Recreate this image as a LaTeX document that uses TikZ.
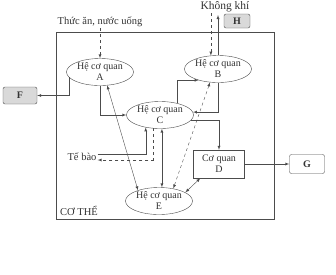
\documentclass[tikz,border=0pt]{standalone}
\usepackage{fontspec}
\setmainfont{Liberation Serif}
\usetikzlibrary{shapes.geometric}
\tikzset{organ/.style={ellipse,draw=black!70,inner sep=0pt,minimum width=67pt,minimum height=27pt,align=center,font=\fontsize{10}{11}\selectfont,text=black!80},
 organbox/.style={rectangle,draw=black!70,inner sep=0pt,minimum width=51pt,minimum height=28pt,align=center,font=\fontsize{10}{11}\selectfont,text=black!80},
 outbox/.style={rectangle,draw=black!70,rounded corners=2pt,inner sep=0pt,font=\bfseries\fontsize{10}{11}\selectfont,text=black!80},
 lbl/.style={inner sep=1pt,font=\fontsize{10.5}{12}\selectfont,text=black!80},
 flow/.style={draw=black!70,thin,-latex}, twoway/.style={draw=black!70,thin,latex-latex}}

\begin{document}
\begin{tikzpicture}[x=1pt,y=-1pt]
\useasboundingbox (0,0) rectangle (336,274);
% frame of the body
\draw[black!70,thin] (56,32) rectangle (274,219);
\node[lbl,anchor=west] (body) at (59,211) {CƠ THỂ};
% organ systems
\node[organ] (A) at (100,72) {Hệ cơ quan\\A};
\node[organ] (B) at (218,69) {Hệ cơ quan\\B};
\node[organ] (C) at (160,115) {Hệ cơ quan\\C};
\node[organ] (E) at (159,201) {Hệ cơ quan\\E};
\node[organbox] (D) at (219,164) {Cơ quan\\D};
% outer boxes and texts
\node[outbox,fill=black!15,minimum width=34pt,minimum height=17pt] (F) at (20,95.5) {F};
\node[outbox,minimum width=35pt,minimum height=19pt] (G) at (307,164) {G};
\node[outbox,fill=black!15,minimum width=26pt,minimum height=14pt] (H) at (237,21) {H};
\node[lbl] (food) at (100,22) {Thức ăn, nước uống};
\node[lbl,font=\fontsize{11.5}{13}\selectfont] (air) at (225,7) {Không khí};
\node[lbl] (cell) at (82,157) {Tế bào};
\coordinate (exhale) at (218,15);
% connectors
\draw[flow,dashed] (food) -- (A);
\draw[flow,dashed] (air.south -| B.118) -- (B.118);
\draw[flow] (B.north) -- (exhale);
\draw[flow] (A.190) |- (F.east);
\draw[flow] (A.south) |- (C.west);
\draw[flow] (C.34) |- (B.210);
\draw[flow] (B.south) |- (C.5);
\draw[flow] (C.-10) -| (D.north);
\draw[flow] (D.east) -- (G.west);
\draw[flow] ([yshift=3pt]cell.east) -| (C.221);
\draw[flow,dashed] (C.242) |- ([yshift=-3pt]cell.east);
\draw[twoway] (C.278) -- (E.north -| C.278);
\draw[twoway] (A.298) -- (E.153);
\draw[twoway,dashed] (B.239) -- (E.41);
\draw[twoway] ([xshift=7pt]D.south west) -- (E.18);
\end{tikzpicture}
\end{document}
